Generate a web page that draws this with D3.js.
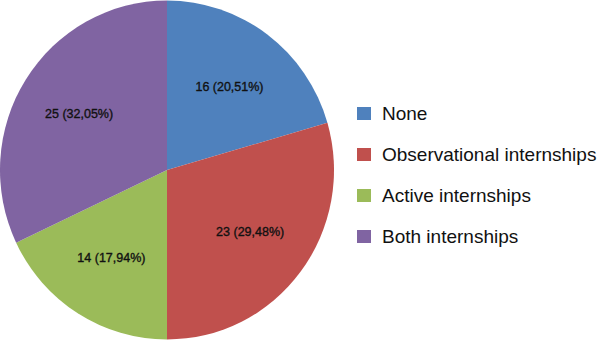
<!DOCTYPE html>
<html>
<head>
<meta charset="utf-8">
<script src="https://cdn.jsdelivr.net/npm/d3@7"></script>
<style>
  html, body { margin: 0; padding: 0; background: #fff; }
  svg { display: block; }
</style>
</head>
<body>
<svg id="chart" width="600" height="359"></svg>
<script>
const categories = ["None", "Observational internships", "Active internships", "Both internships"];
const counts = [16, 23, 14, 25];
const percentLabels = ["20,51%", "29,48%", "17,94%", "32,05%"];
const colors = ["#4F81BD", "#C0504D", "#9BBB59", "#8064A2"];

const data = categories.map((c, i) => ({ category: c, value: counts[i], pct: percentLabels[i], color: colors[i] }));

const svg = d3.select("#chart");
const cx = 167, cy = 170, R = 167;

const pie = d3.pie().sort(null).value(d => d.value);
const arcs = pie(data);
const arc = d3.arc().innerRadius(0).outerRadius(R);
const labelArc = d3.arc().innerRadius(104).outerRadius(104);

const g = svg.append("g").attr("transform", `translate(${cx},${cy}) scale(1,1.015)`);
g.selectAll("path").data(arcs).enter().append("path")
  .attr("d", arc)
  .attr("fill", d => d.data.color);

const lg = svg.append("g").attr("transform", `translate(${cx},${cy})`);
lg.selectAll("text").data(arcs).enter().append("text")
  .attr("transform", d => {
    const [x, y] = labelArc.centroid(d);
    return `translate(${x},${y})`;
  })
  .attr("text-anchor", "middle")
  .attr("dominant-baseline", "central")
  .attr("font-family", "Liberation Sans, Arial, sans-serif")
  .attr("font-size", 12.5)
  .attr("fill", "#111")
  .attr("stroke", "#111")
  .attr("stroke-width", 0.35)
  .text(d => `${d.data.value} (${d.data.pct})`);

// Legend
const legY = d3.scaleBand().domain(categories).range([93, 257]).paddingInner(0).paddingOuter(0);
const leg = svg.append("g");
const items = leg.selectAll("g").data(data).enter().append("g")
  .attr("transform", d => `translate(357,${legY(d.category) + legY.bandwidth() / 2})`);
items.append("rect")
  .attr("x", 0).attr("y", -6.5)
  .attr("width", 14).attr("height", 13)
  .attr("fill", d => d.color);
items.append("text")
  .attr("x", 25).attr("y", 0)
  .attr("dominant-baseline", "central")
  .attr("font-family", "Liberation Sans, Arial, sans-serif")
  .attr("font-size", 19)
  .attr("fill", "#111")
  .text(d => d.category);
</script>
</body>
</html>
